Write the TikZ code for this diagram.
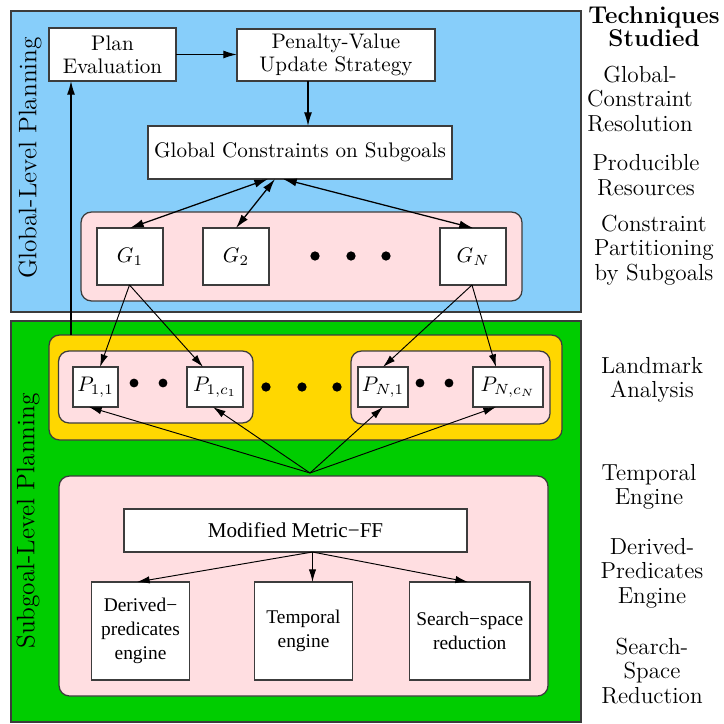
\documentclass[tikz,border=0pt]{standalone}
\usepackage{fontspec}
\newfontfamily\timesfont{Liberation Serif}
\usetikzlibrary{arrows.meta}

\definecolor{skyfill}{RGB}{135,206,250}
\definecolor{grnfill}{RGB}{0,205,0}
\definecolor{goldfill}{RGB}{255,215,0}
\definecolor{pinkfill}{RGB}{255,222,225}
\definecolor{edgegray}{RGB}{60,60,60}

\tikzset{
  sz/.style 2 args={minimum width=#1*0.474pt, minimum height=#2*0.474pt},
  panel/.style={draw=edgegray, line width=0.6pt, inner sep=0pt, outer sep=0pt},
  group/.style={draw=edgegray, line width=0.6pt, rounded corners=5pt, inner sep=0pt, outer sep=0pt},
  box/.style={draw=edgegray, fill=white, line width=0.5pt, inner sep=0pt, outer sep=0pt,
    align=center, font=\fontsize{10}{10.8}\selectfont},
  tbox/.style={box, font=\timesfont\fontsize{9.2}{11.4}\selectfont},
  side/.style={align=center, font=\fontsize{11}{11.6}\selectfont},
  sidehead/.style={align=center, font=\bfseries\fontsize{11.5}{11}\selectfont},
  vlabel/.style={rotate=90, font=\fontsize{12}{14}\selectfont},
  arr/.style={-{Latex[length=6.5pt,width=3.8pt]}, line width=0.6pt},
  thinarr/.style={-{Latex[length=6pt,width=3.5pt]}, line width=0.45pt},
  barr/.style={{Latex[length=6.5pt,width=3.8pt]}-{Latex[length=6.5pt,width=3.8pt]}, line width=0.6pt},
  dot/.style={fill=black}
}

\begin{document}
\begin{tikzpicture}[x=0.474pt, y=-0.474pt]
\useasboundingbox (0,0) rectangle (723,724);

% the two planning levels
\node[panel, fill=skyfill, sz={570}{301}] (glob) at (296,161.5) {};
\node[panel, fill=grnfill, sz={570}{401}] (sub) at (296,521.5) {};

\node[vlabel] (globlab) at (30,158) {Global-Level Planning};
\node[vlabel] (sublab) at (28,521) {Subgoal-Level Planning};

% global level
\node[box, sz={127}{53}] (plan) at (112.5,54.5) {Plan\\Evaluation};
\node[box, sz={198}{52}] (pvu) at (336,55) {Penalty-Value\\Update Strategy};
\node[box, sz={304}{53}] (gc) at (300,152.5) {Global Constraints on Subgoals};

\node[group, fill=pinkfill, sz={441}{89}] (gset) at (301.5,256.5) {};
\node[box, sz={66}{57}] (g1) at (130,256.5) {$G_1$};
\node[box, sz={66}{57}] (g2) at (236,256.5) {$G_2$};
\node[box, sz={66}{57}] (gn) at (473,256.5) {$G_N$};
\foreach \x in {315,351,386} \fill[dot] (\x,256) circle (2.2pt);

% subgoal level: landmarks
\node[group, fill=goldfill, sz={513}{105}] (lmk) at (305.5,387.5) {};
\node[group, fill=pinkfill, sz={194.5}{72}] (pleft) at (155.75,387) {};
\node[group, fill=pinkfill, sz={199}{73}] (pright) at (450.5,387.5) {};
\node[box, sz={45}{40}] (p11) at (95.5,387) {$P_{1,1}$};
\node[box, sz={56}{40}] (p1c) at (215,387) {$P_{1,c_1}$};
\node[box, sz={50}{40}] (pn1) at (383,387) {$P_{N,1}$};
\node[box, sz={70}{40}] (pnc) at (508,387) {$P_{N,c_N}$};
\foreach \x in {134,163,420,449} \fill[dot] (\x,383) circle (2.1pt);
\foreach \x in {266,302,337} \fill[dot] (\x,387) circle (2.2pt);

% subgoal level: planner
\node[group, fill=pinkfill, sz={489}{220}] (eng) at (303.5,586) {};
\node[tbox, sz={343}{43}, font=\timesfont\fontsize{10}{12}\selectfont] (mff) at (295.5,530.5) {Modified Metric−FF};
\node[tbox, sz={98}{98}] (der) at (140.5,631) {Derived−\\predicates\\engine};
\node[tbox, sz={98}{98}] (tmp) at (303.5,631) {Temporal\\engine};
\node[tbox, sz={120.5}{98}] (ssr) at (469.75,631) {Search−space\\reduction};

% anchor columns for the connectors
\coordinate (xup) at (71,0);
\coordinate (xpv) at (308,0);
\coordinate (xa) at (268,0);
\coordinate (xb) at (275,0);
\coordinate (xc) at (283,0);
\coordinate (xg1) at (129.5,0);
\coordinate (xgn) at (472,0);
\coordinate (xp11t) at (100,0);
\coordinate (xp1ct) at (203,0);
\coordinate (xpn1t) at (383,0);
\coordinate (xpnct) at (496,0);
\coordinate (xp11b) at (89,0);
\coordinate (xp1cb) at (213,0);
\coordinate (xpncb) at (496,0);
\coordinate (xmf) at (312.5,0);
\coordinate (xder) at (137,0);
\coordinate (xtmp) at (312.5,0);
\coordinate (xssr) at (468,0);
\coordinate (hub) at (310,473);

% global-level connectors
\draw[arr] (plan.east) -- (pvu.west |- plan.east);
\draw[arr] (pvu.south -| xpv) -- (gc.north -| xpv);
\draw[arr] (lmk.north -| xup) -- (plan.south -| xup);
\draw[barr] (gc.south -| xa) -- (g1.north);
\draw[barr] (gc.south -| xb) -- (g2.north);
\draw[barr] (gc.south -| xc) -- (gn.north);

% subgoals to landmarks
\draw[thinarr] (g1.south -| xg1) -- (p11.north -| xp11t);
\draw[thinarr] (g1.south -| xg1) -- (p1c.north -| xp1ct);
\draw[thinarr] (gn.south -| xgn) -- (pn1.north -| xpn1t);
\draw[thinarr] (gn.south -| xgn) -- (pnc.north -| xpnct);

% planner feedback to landmarks
\draw[thinarr] (hub) -- (p11.south -| xp11b);
\draw[thinarr] (hub) -- (p1c.south -| xp1cb);
\draw[thinarr] (hub) -- (pn1.south -| xpn1t);
\draw[thinarr] (hub) -- (pnc.south -| xpncb);

% planner components
\draw[thinarr] (mff.south -| xmf) -- (der.north -| xder);
\draw[thinarr] (mff.south -| xmf) -- (tmp.north -| xtmp);
\draw[thinarr] (mff.south -| xmf) -- (ssr.north -| xssr);

% techniques column
\node[sidehead] (th) at (654,27) {Techniques\\Studied};
\node[side] (t1) at (640,99) {Global-\\Constraint\\Resolution};
\node[side] (t2) at (646,175) {Producible\\Resources};
\node[side] (t3) at (654,250) {Constraint\\Partitioning\\by Subgoals};
\node[side] (t4) at (652,380) {Landmark\\Analysis};
\node[side] (t5) at (649,487) {Temporal\\Engine};
\node[side] (t6) at (652,573) {Derived-\\Predicates\\Engine};
\node[side] (t7) at (652,671) {Search-\\Space\\Reduction};
\end{tikzpicture}
\end{document}
